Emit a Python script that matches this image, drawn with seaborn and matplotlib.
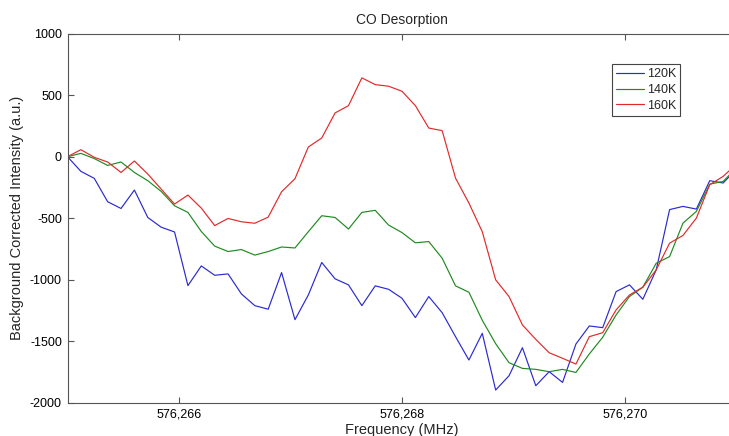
import numpy as np
import pandas as pd
import matplotlib
matplotlib.use("Agg")
import matplotlib.pyplot as plt
import seaborn as sns

# Frequency grid (MHz): 51 channels, 0.12 MHz apart
freq_start = 576265.0
freq_step = 0.12
n_points = 51

intensity_120K = [0, -119, -176, -366, -421, -271, -494, -573, -612, -1048,
                  -888, -964, -953, -1116, -1211, -1240, -942, -1325, -1124, -860,
                  -993, -1042, -1211, -1050, -1078, -1151, -1308, -1137, -1268, -1463,
                  -1653, -1436, -1897, -1781, -1553, -1862, -1748, -1835, -1523, -1376,
                  -1390, -1097, -1042, -1159, -920, -430, -404, -426, -195, -214,
                  -100]
intensity_140K = [0, 27, -15, -71, -43, -128, -195, -282, -399, -453,
                  -608, -727, -771, -755, -800, -771, -734, -742, -610, -480,
                  -494, -588, -453, -436, -556, -617, -700, -690, -825, -1050,
                  -1102, -1330, -1520, -1675, -1721, -1729, -1748, -1729, -1754, -1604,
                  -1468, -1287, -1137, -1061, -866, -812, -540, -445, -223, -201,
                  -90]
intensity_160K = [0, 57, -5, -43, -128, -35, -141, -263, -385, -312,
                  -418, -560, -502, -529, -541, -491, -285, -179, 79, 152,
                  356, 415, 641, 586, 573, 532, 415, 233, 212, -174,
                  -377, -610, -1001, -1137, -1368, -1485, -1594, -1639, -1686, -1463,
                  -1431, -1246, -1124, -1061, -920, -703, -640, -499, -228, -160,
                  -60]

series_labels = ["120K", "140K", "160K"]
series_colors = ["#2a2ad0", "#1f8a1f", "#e02a2a"]

x_ticks = [576266, 576268, 576270]
x_tick_labels = ["576,266", "576,268", "576,270"]
y_ticks = [-2000, -1500, -1000, -500, 0, 500, 1000]

freq = freq_start + freq_step * np.arange(n_points)
frames = []
for label, values in zip(series_labels, [intensity_120K, intensity_140K, intensity_160K]):
    frames.append(pd.DataFrame({"freq": freq, "intensity": values, "temp": label}))
df = pd.concat(frames, ignore_index=True)

sns.set_style("white")
plt.rcParams["font.family"] = ["Liberation Sans", "DejaVu Sans"]
plt.rcParams["axes.unicode_minus"] = False

fig = plt.figure(figsize=(7.29, 4.36), dpi=100)
# axes run slightly past the right edge of the canvas
ax = fig.add_axes([67.5 / 729, 33.3 / 436, 669 / 729, 369 / 436])

sns.lineplot(data=df, x="freq", y="intensity", hue="temp",
             palette=dict(zip(series_labels, series_colors)),
             linewidth=0.85, ax=ax, legend=True)

ax.set_xlim(576265, 576271)
ax.set_ylim(-2000, 1000)
ax.set_xticks(x_ticks)
ax.set_xticklabels(x_tick_labels)
ax.set_yticks(y_ticks)
ax.set_yticklabels([str(v) for v in y_ticks])

ax.tick_params(direction="in", length=4.5, width=0.8, color="#555555",
               labelsize=9, labelcolor="black", top=True, right=True,
               bottom=True, left=True, pad=4)
for spine in ax.spines.values():
    spine.set_color("#555555")
    spine.set_linewidth(0.8)

ax.set_title("CO Desorption", fontsize=10, pad=7)
ax.set_xlabel("Frequency (MHz)", fontsize=10.5, labelpad=2)
ax.set_ylabel("Background Corrected Intensity (a.u.)", fontsize=10.5, labelpad=4)

leg = ax.legend(loc="upper left", bbox_to_anchor=(0.8134, 0.918),
                fontsize=9, frameon=True, fancybox=False, framealpha=1,
                edgecolor="#444444", handlelength=2.2, handletextpad=0.25,
                labelspacing=0.3, borderpad=0.35, borderaxespad=0)
leg.get_frame().set_linewidth(0.8)
leg.set_title(None)

fig.savefig("out.png", dpi=100)
